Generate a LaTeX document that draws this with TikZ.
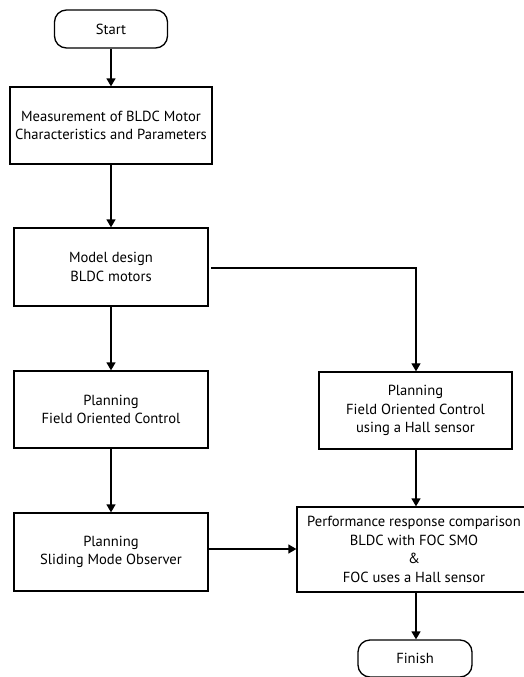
\documentclass[tikz,border=0pt]{standalone}
\usepackage{fontspec}
\setmainfont{PT Sans}
\usetikzlibrary{arrows.meta}
\begin{document}
\begin{tikzpicture}[x=1pt,y=-1pt,
  box/.style={draw=black,line width=1.3pt,align=center,inner sep=0pt,
    font=\fontsize{14.6}{18.5}\selectfont},
  term/.style={box,rounded corners=12pt},
  conn/.style={line width=1.5pt,-{Triangle[width=9pt,length=8pt]}}]
\useasboundingbox (0,0) rectangle (523,677);
\node[term,minimum width=113pt,minimum height=38pt] (start) at (111,29) {Start};
\node[box,minimum width=202pt,minimum height=77pt] (meas) at (111,125.5)
  {Measurement of BLDC Motor\\Characteristics and Parameters};
\node[box,minimum width=194pt,minimum height=78pt] (model) at (111,267)
  {Model design\\BLDC motors};
\node[box,minimum width=194pt,minimum height=77pt] (foc) at (111,409.5)
  {Planning\\Field Oriented Control};
\node[box,minimum width=194pt,minimum height=78pt] (smo) at (111,552)
  {Planning\\Sliding Mode Observer};
\node[box,minimum width=193pt,minimum height=77pt] (hall) at (415.5,410.5)
  {Planning\\Field Oriented Control\\using a Hall sensor};
\node[box,minimum width=234pt,minimum height=85pt] (perf) at (414,549.5)
  {Performance response comparison\\BLDC with FOC SMO\\\&\\FOC uses a Hall sensor};
\node[term,minimum width=114pt,minimum height=37pt] (finish) at (415,658.5) {Finish};
\coordinate (mr) at (211,268);
\coordinate (corner) at (416,268);
\draw[conn] (start) -- (meas);
\draw[conn] (meas) -- (model);
\draw[conn] (model) -- (foc);
\draw[conn] (foc) -- (smo);
\draw[conn,line width=1.2pt] (mr) -- (corner) -- (hall.north -| corner);
\draw[conn] (hall.south -| corner) -- (perf.north -| corner);
\draw[conn] (smo.east |- 0,549) -- (perf.west |- 0,549);
\draw[conn] (perf.south -| corner) -- (finish.north -| corner);
\end{tikzpicture}
\end{document}
